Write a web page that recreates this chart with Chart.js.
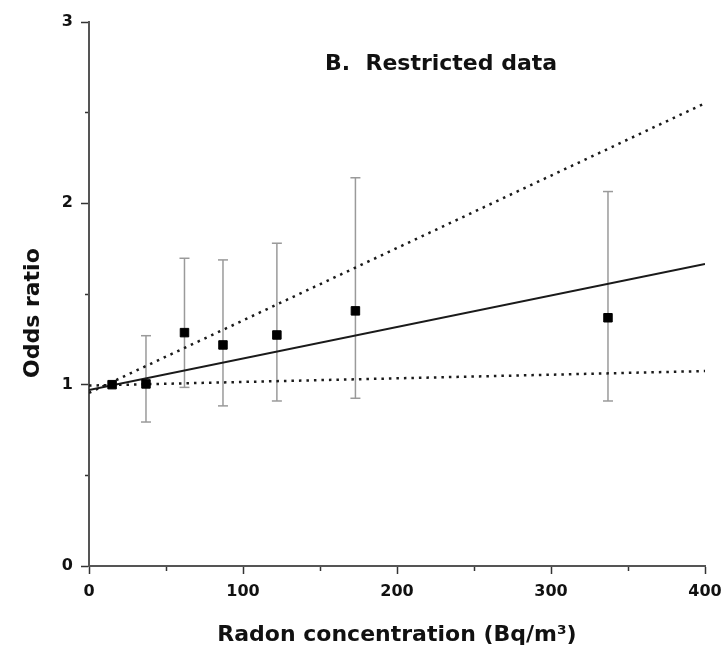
<!DOCTYPE html>
<html>
<head>
<meta charset="utf-8">
<script src="https://cdn.jsdelivr.net/npm/chart.js@4"></script>
<style>
    body { margin: 0; background: #fff; overflow: hidden; }
</style>
</head>
<body>
<canvas id="chart" width="727" height="650"></canvas>
<script>
// Radon concentration (Bq/m3) of each category
const radonLevels = [15, 37, 62, 87, 122, 173, 337];
// Odds ratios and 95% confidence limits (reference category has none)
const oddsRatios = [1.0, 1.004, 1.287, 1.219, 1.274, 1.407, 1.369];
const ciLower = [null, 0.794, 0.985, 0.883, 0.910, 0.925, 0.910];
const ciUpper = [null, 1.270, 1.697, 1.688, 1.780, 2.141, 2.065];

// Fitted linear model and its confidence bounds
const fitRadon = [0, 400];
const fitCentral = [0.97, 1.665];
const fitUpperBound = [0.955, 2.552];
const fitLowerBound = [0.995, 1.075];

const panelLabel = 'B.  Restricted data';
const xTitle = 'Radon concentration (Bq/m³)';
const yTitle = 'Odds ratio';

const FONT = '"DejaVu Sans", "Liberation Sans", Arial, sans-serif';
const toPoints = (xs, ys) => xs.map((x, i) => ({ x: x, y: ys[i] }));

// one small line dataset per error bar, caps drawn as 'line' points
const errorBarSets = radonLevels
    .map((x, i) => ({ x, lo: ciLower[i], hi: ciUpper[i] }))
    .filter(d => d.lo !== null)
    .map(d => ({
        type: 'line',
        data: [{ x: d.x, y: d.lo }, { x: d.x, y: d.hi }],
        borderColor: '#9a9a9a',
        borderWidth: 1.5,
        pointStyle: 'line',
        pointRadius: 5,
        pointBorderColor: '#9a9a9a',
        pointBorderWidth: 1.5,
        fill: false
    }));

const fitLine = (ys, dash, width) => ({
    type: 'line',
    data: toPoints(fitRadon, ys),
    borderColor: '#1a1a1a',
    borderWidth: width,
    borderDash: dash,
    pointRadius: 0,
    fill: false
});

// panel label sits inside the plot area
const panelLabelPlugin = {
    id: 'panelLabel',
    afterDraw(chart) {
        const { ctx, chartArea } = chart;
        ctx.save();
        ctx.font = 'bold 22px ' + FONT;
        ctx.fillStyle = '#111';
        ctx.textBaseline = 'alphabetic';
        ctx.fillText(panelLabel, chartArea.left + 236, chartArea.top + 48);
        ctx.restore();
    }
};

const tickFont = { family: FONT, size: 16, weight: 'bold' };
const titleFont = { family: FONT, size: 22, weight: 'bold' };

new Chart(document.getElementById('chart'), {
    type: 'scatter',
    data: {
        datasets: [
            {
                data: toPoints(radonLevels, oddsRatios),
                pointStyle: 'rect',
                pointRadius: 6,
                backgroundColor: '#000',
                borderColor: '#000',
                borderWidth: 1
            },
            fitLine(fitCentral, [], 2),
            fitLine(fitUpperBound, [2.5, 5], 2.5),
            fitLine(fitLowerBound, [2.5, 5], 2.5),
            ...errorBarSets
        ]
    },
    options: {
        responsive: false,
        animation: false,
        layout: { padding: { top: 22, right: 22, left: 0, bottom: 0 } },
        plugins: {
            legend: { display: false },
            tooltip: { enabled: false }
        },
        scales: {
            x: {
                type: 'linear',
                min: 0,
                max: 400,
                afterFit: (scale) => {
                    scale.height = 84;
                    scale.paddingRight = 0; // let layout padding alone set the right edge
                },
                border: { display: true, color: '#555', width: 2 },
                grid: {
                    drawOnChartArea: false,
                    drawTicks: true,
                    tickLength: 8,
                    tickColor: '#333',
                    tickWidth: 1.5,
                    tickBorderDash: (ctx) => (ctx.tick && ctx.tick.value % 100 !== 0) ? [4, 100] : []
                },
                ticks: {
                    stepSize: 50,
                    padding: 8,
                    maxRotation: 0,
                    color: '#111',
                    font: tickFont,
                    callback: (v) => v % 100 === 0 ? v : ''
                },
                title: {
                    display: true,
                    text: xTitle,
                    color: '#111',
                    font: titleFont,
                    padding: { top: 0, bottom: 2 }
                }
            },
            y: {
                type: 'linear',
                min: 0,
                max: 3,
                afterFit: (scale) => { scale.width = 89; },
                border: { display: true, color: '#555', width: 2 },
                grid: {
                    drawOnChartArea: false,
                    drawTicks: true,
                    tickLength: 8,
                    tickColor: '#333',
                    tickWidth: 1.5,
                    tickBorderDash: (ctx) => (ctx.tick && ctx.tick.value % 1 !== 0) ? [0, 4, 20, 0] : []
                },
                ticks: {
                    stepSize: 0.5,
                    padding: 8,
                    color: '#111',
                    font: tickFont,
                    callback: (v) => v % 1 === 0 ? v : ''
                },
                title: {
                    display: true,
                    // trailing spaces nudge the centred label down like the original
                    text: yTitle + '     ',
                    color: '#111',
                    font: titleFont,
                    padding: { top: 20, bottom: 0 }
                }
            }
        }
    },
    plugins: [panelLabelPlugin]
});
</script>
</body>
</html>
